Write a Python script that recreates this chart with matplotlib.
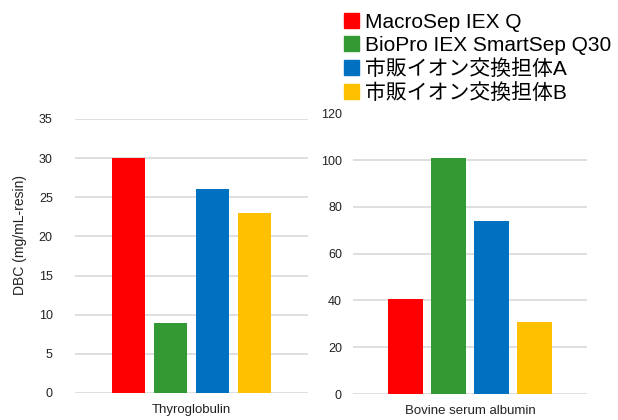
import numpy as np
import matplotlib.pyplot as plt
from matplotlib.patches import Patch

plt.rcParams['font.family'] = ['Liberation Sans', 'Noto Sans CJK JP']

series = ['MacroSep IEX Q', 'BioPro IEX SmartSep Q30', '市販イオン交換担体A', '市販イオン交換担体B']
colors = ['#FF0000', '#339933', '#0070C0', '#FFC000']
proteins = ['Thyroglobulin', 'Bovine serum albumin']
thyro = [30, 9, 26, 23]
bsa = [40.5, 101, 74, 31]

fig = plt.figure(figsize=(6.18, 4.2), dpi=100)
ax1 = fig.add_axes([0.1214, 0.0643, 0.377, 0.6524])
ax2 = fig.add_axes([0.5712, 0.0619, 0.3786, 0.668])

x = np.arange(len(series)) - 1.5

def style(ax, vals, name, ymax, step, pad, halfw):
    ax.bar(x, vals, width=0.8, color=colors, zorder=2)
    ax.set_xlim(-halfw, halfw)
    ax.set_ylim(0, ymax)
    ax.set_yticks(np.arange(0, ymax + 1, step))
    ax.set_xticks([0])
    ax.set_xticklabels([name], fontsize=9.5, color='#222222')
    ax.tick_params(axis='x', length=0, pad=8)
    ax.tick_params(axis='y', length=0, pad=pad, labelsize=9, labelcolor='#222222')
    for s in ax.spines.values():
        s.set_visible(False)
    ax.grid(axis='y', color='#d9d9d9', linewidth=1.2, zorder=0)
    ax.set_axisbelow(True)

style(ax1, thyro, proteins[0], 35, 5, 16, 2.77)
style(ax2, bsa, proteins[1], 120, 20, 8, 2.72)
# top gridline is not drawn on the right panel
ax2.get_ygridlines()[-1].set_visible(False)

fig.text(20 / 618, 1 - 235 / 420, 'DBC (mg/mL-resin)', rotation=90,
         ha='center', va='center', fontsize=10, color='#222222')

handles = [Patch(color=c) for c in colors]
fig.legend(handles, series, loc='upper left', bbox_to_anchor=(331 / 618, 1.0),
           frameon=False, fontsize=15, handlelength=0.72, handleheight=0.72,
           handletextpad=0.3, labelspacing=0.2, borderaxespad=0.2)

fig.savefig('out.png', dpi=100)
